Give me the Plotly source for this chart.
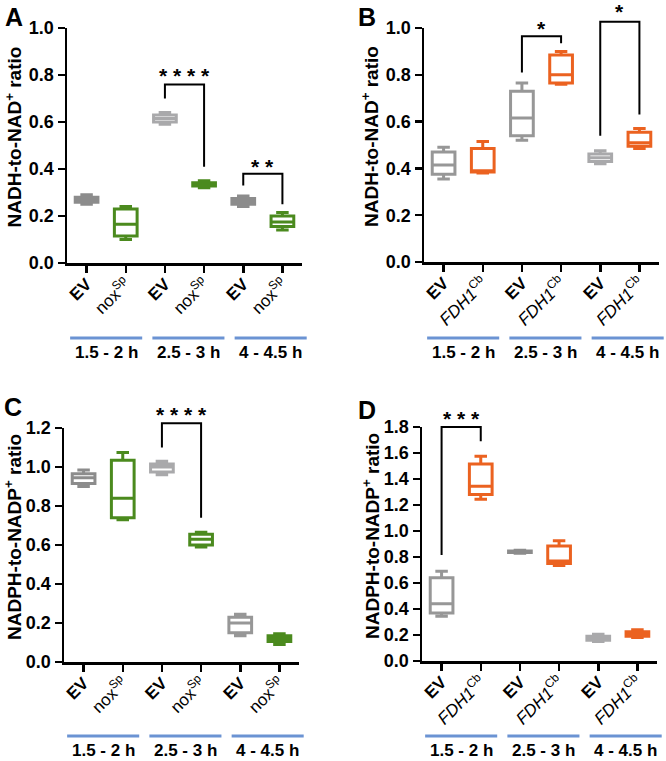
import plotly.graph_objects as go

W, H = 666, 761

# ---------------- data ----------------
groups = ["1.5 - 2 h", "2.5 - 3 h", "4 - 4.5 h"]
nox_labels = ["<b>EV</b>", "nox<sup>Sp</sup>"] * 3
fdh_labels = ["<b>EV</b>", "<i>FDH1</i><sup>Cb</sup>"] * 3

# Panel A: NADH/NAD+ (nox)
A_min = [0.25, 0.10, 0.59, 0.32, 0.24, 0.14]
A_q1 = [0.258, 0.115, 0.60, 0.328, 0.25, 0.155]
A_med = [0.27, 0.165, 0.615, 0.335, 0.262, 0.175]
A_q3 = [0.28, 0.23, 0.63, 0.342, 0.275, 0.20]
A_max = [0.29, 0.24, 0.64, 0.35, 0.285, 0.215]

# Panel B: NADH/NAD+ (FDH1)
B_min = [0.355, 0.38, 0.52, 0.76, 0.42, 0.485]
B_q1 = [0.375, 0.385, 0.54, 0.765, 0.43, 0.495]
B_med = [0.415, 0.39, 0.615, 0.80, 0.445, 0.51]
B_q3 = [0.47, 0.485, 0.73, 0.885, 0.462, 0.555]
B_max = [0.49, 0.515, 0.765, 0.90, 0.475, 0.57]

# Panel C: NADPH/NADP+ (nox)
C_min = [0.90, 0.73, 0.96, 0.59, 0.135, 0.09]
C_q1 = [0.915, 0.74, 0.975, 0.60, 0.15, 0.105]
C_med = [0.945, 0.84, 1.0, 0.63, 0.20, 0.12]
C_q3 = [0.965, 1.035, 1.015, 0.655, 0.23, 0.135]
C_max = [0.985, 1.075, 1.03, 0.665, 0.245, 0.145]

# Panel D: NADPH/NADP+ (FDH1)
D_min = [0.345, 1.245, 0.828, 0.735, 0.15, 0.18]
D_q1 = [0.37, 1.28, 0.834, 0.75, 0.16, 0.19]
D_med = [0.44, 1.345, 0.84, 0.77, 0.175, 0.21]
D_q3 = [0.64, 1.515, 0.846, 0.885, 0.19, 0.225]
D_max = [0.69, 1.575, 0.852, 0.925, 0.205, 0.24]

DG, MG, LG = "#8c8c8c", "#979797", "#a9a9ab"
GREEN, ORANGE = "#4b8a1e", "#eb6220"
A_col = [DG, GREEN, LG, GREEN, DG, GREEN]
B_col = [MG, ORANGE, MG, ORANGE, LG, ORANGE]
C_col = [DG, GREEN, LG, GREEN, MG, GREEN]
D_col = [MG, ORANGE, DG, ORANGE, LG, ORANGE]

# significance brackets: (x_left, x_right, y_left_end, y_top, y_right_end, label, label_y)
A_sig = [(2, 3, 0.70, 0.76, 0.41, "* * * *", 0.82), (4, 5, 0.33, 0.38, 0.25, "* *", 0.43)]
B_sig = [(2, 3, 0.81, 0.965, 0.935, "*", 1.02), (4, 5, 0.54, 1.027, 0.63, "*", 1.09)]
C_sig = [(2, 3, 1.10, 1.225, 0.74, "* * * *", 1.295)]
D_sig = [(0, 1, 0.815, 1.80, 1.69, "* * *", 1.905)]

FONT = "Arial, Liberation Sans, sans-serif"


def px2x(p):
    return p / W


def px2y(p):
    return 1 - p / H


panels = [
    dict(name="A", mins=A_min, q1=A_q1, med=A_med, q3=A_q3, maxs=A_max, cols=A_col,
         labels=nox_labels, sig=A_sig, ymax=1.0, ytitle="NADH-to-NAD<sup>+</sup> ratio",
         dom_x=(67, 302), dom_y=(28, 263), letter=(14, 17), title_x=14, line_y=338, grp_y=352),
    dict(name="B", mins=B_min, q1=B_q1, med=B_med, q3=B_q3, maxs=B_max, cols=B_col,
         labels=fdh_labels, sig=B_sig, ymax=1.0, ytitle="NADH-to-NAD<sup>+</sup> ratio",
         dom_x=(424, 659), dom_y=(28, 262), letter=(367, 17), title_x=370, line_y=338, grp_y=352),
    dict(name="C", mins=C_min, q1=C_q1, med=C_med, q3=C_q3, maxs=C_max, cols=C_col,
         labels=nox_labels, sig=C_sig, ymax=1.2, ytitle="NADPH-to-NADP<sup>+</sup> ratio",
         dom_x=(64, 299), dom_y=(428, 662), letter=(13, 407), title_x=13, line_y=736, grp_y=750),
    dict(name="D", mins=D_min, q1=D_q1, med=D_med, q3=D_q3, maxs=D_max, cols=D_col,
         labels=fdh_labels, sig=D_sig, ymax=1.8, ytitle="NADPH-to-NADP<sup>+</sup> ratio",
         dom_x=(422, 657), dom_y=(427, 661), letter=(367, 410), title_x=371, line_y=736, grp_y=750),
]

fig = go.Figure()
annotations = []
shapes = []
layout_axes = {}

for k, p in enumerate(panels):
    sfx = "" if k == 0 else str(k + 1)
    xa, ya = "x" + sfx, "y" + sfx
    dx0, dx1 = p["dom_x"]
    dy0, dy1 = p["dom_y"]

    def xp(v, dx0=dx0, dx1=dx1):
        return px2x(dx0 + (v + 0.5) / 6 * (dx1 - dx0))

    def yp(v, dy0=dy0, dy1=dy1, ymax=p["ymax"]):
        return px2y(dy1 - v / ymax * (dy1 - dy0))

    for i in range(6):
        fig.add_trace(go.Box(
            x=[i], q1=[p["q1"][i]], median=[p["med"][i]], q3=[p["q3"][i]],
            lowerfence=[p["mins"][i]], upperfence=[p["maxs"][i]],
            width=0.58, whiskerwidth=0.55, boxpoints=False,
            line=dict(color=p["cols"][i], width=3), fillcolor="white",
            xaxis=xa, yaxis=ya, showlegend=False, hoverinfo="skip"))
    for (xl, xr, yl, yt, yr, lab, ly) in p["sig"]:
        path = "M{},{} L{},{} L{},{} L{},{}".format(
            xp(xl), yp(yl), xp(xl), yp(yt), xp(xr), yp(yt), xp(xr), yp(yr))
        shapes.append(dict(type="path", xref="paper", yref="paper", path=path,
                           line=dict(color="black", width=2)))
        annotations.append(dict(
            x=xp((xl + xr) / 2), y=yp(ly), xref="paper", yref="paper", text=lab,
            showarrow=False, xanchor="center", yanchor="middle", yshift=-5,
            font=dict(family=FONT, size=21, color="black", weight="bold")))
    # group lines and labels
    for g, gl in enumerate(groups):
        x0 = 2 * g - 0.42 + 0.1 * g
        x1 = 2 * g + 1.42 + 0.1 * g
        shapes.append(dict(type="line", xref="paper", yref="paper", x0=xp(x0), x1=xp(x1),
                           y0=px2y(p["line_y"]), y1=px2y(p["line_y"]),
                           line=dict(color="#6b93d3", width=3)))
        annotations.append(dict(
            x=xp((x0 + x1) / 2), y=px2y(p["grp_y"]), xref="paper", yref="paper", text=gl,
            showarrow=False, xanchor="center", yanchor="middle",
            font=dict(family=FONT, size=17, color="black", weight="bold")))
    # y title
    annotations.append(dict(
        x=px2x(p["title_x"]), y=px2y((dy0 + dy1) / 2 - 8),
        xref="paper", yref="paper", text=p["ytitle"], textangle=-90, showarrow=False,
        xanchor="center", yanchor="middle",
        font=dict(family=FONT, size=19, color="black", weight="bold")))
    # panel letter
    annotations.append(dict(
        x=px2x(p["letter"][0]), y=px2y(p["letter"][1]), xref="paper", yref="paper",
        text=p["name"], showarrow=False, xanchor="center", yanchor="middle",
        font=dict(family=FONT, size=25, color="black", weight="bold")))

    layout_axes["xaxis" + sfx] = dict(
        domain=[px2x(dx0), px2x(dx1)], anchor=ya, automargin=False,
        range=[-0.5, 5.5], tickmode="array", tickvals=list(range(6)), ticktext=p["labels"],
        tickangle=-45, ticks="outside", ticklen=7, tickwidth=2.5, tickcolor="black",
        ticklabelstandoff=-5,
        showline=True, linewidth=2.5, linecolor="black", showgrid=False, zeroline=False,
        tickfont=dict(family=FONT, size=17, color="black"), fixedrange=True)
    layout_axes["yaxis" + sfx] = dict(
        domain=[px2y(dy1), px2y(dy0)], anchor=xa, automargin=False,
        range=[0, p["ymax"]], dtick=0.2, tickformat=".1f",
        ticks="outside", ticklen=7, tickwidth=2.5, tickcolor="black",
        showline=True, linewidth=2.5, linecolor="black", showgrid=False, zeroline=False,
        tickfont=dict(family=FONT, size=18, color="black", weight="bold"), fixedrange=True)

fig.update_layout(
    width=W, height=H, margin=dict(l=0, r=0, t=0, b=0, pad=0),
    plot_bgcolor="white", paper_bgcolor="white", boxmode="overlay",
    annotations=annotations, shapes=shapes, **layout_axes)

fig.write_html(
    "out.html",
    config={"displayModeBar": False, "staticPlot": True},
    post_script="document.body.style.margin='0px';document.body.style.overflow='hidden';")
